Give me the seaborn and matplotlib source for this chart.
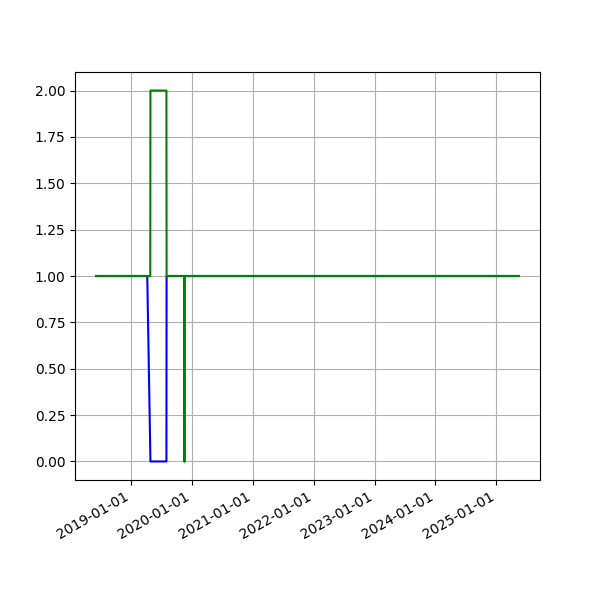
import pandas as pd
import seaborn as sns
import matplotlib.pyplot as plt
import matplotlib.dates as mdates

blue_dates = ['2018-06-04', '2019-04-07', '2019-04-26', '2019-07-31', '2019-08-01', '2025-05-16']
blue_values = [1, 1, 0, 0, 1, 1]

green_dates = ['2018-06-04', '2019-04-25', '2019-04-26', '2019-07-31', '2019-08-01',
               '2019-11-16', '2019-11-16', '2019-11-16', '2025-05-16']
green_values = [1, 1, 2, 2, 1, 1, 0, 1, 1]

blue = pd.DataFrame({'date': pd.to_datetime(blue_dates), 'value': blue_values})
green = pd.DataFrame({'date': pd.to_datetime(green_dates), 'value': green_values})

fig, ax = plt.subplots(figsize=(6, 6), dpi=100)
sns.lineplot(x='date', y='value', data=blue, color='blue', estimator=None, sort=False, ax=ax)
sns.lineplot(x='date', y='value', data=green, color='green', estimator=None, sort=False, ax=ax)

ax.xaxis.set_major_locator(mdates.YearLocator())
ax.xaxis.set_major_formatter(mdates.DateFormatter('%Y-%m-%d'))
ax.set_xlabel('')
ax.set_ylabel('')
ax.grid(True)
fig.autofmt_xdate()

plt.savefig('out.png')
